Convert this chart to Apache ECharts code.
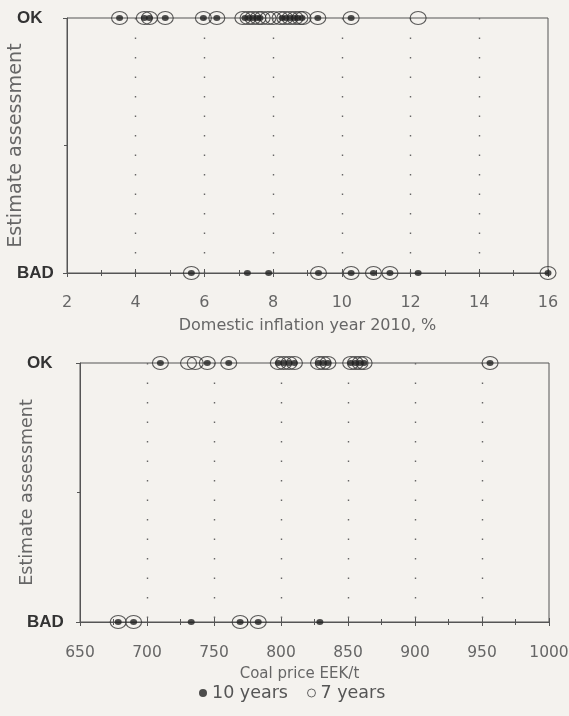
<!DOCTYPE html>
<html><head><meta charset="utf-8">
<script src="https://cdn.jsdelivr.net/npm/echarts@6/dist/echarts.min.js"></script>
<style>html,body{margin:0;padding:0;background:#f4f2ee;}#c{width:569px;height:716px;}</style>
</head><body><div id="c"></div>
<script>
// ---- data ----
const outcomeLabels = ['BAD', 'OK'];            // y = 0 -> BAD, y = 1 -> OK
const inflationTicks = [2, 4, 6, 8, 10, 12, 14, 16];
const coalTicks = [650, 700, 750, 800, 850, 900, 950, 1000];

// Domestic inflation year 2010, %
const inflation7OK  = [3.53, 4.25, 4.40, 4.86, 5.97, 6.36, 7.12, 7.27, 7.41, 7.56, 7.68, 7.85, 8.00, 8.20, 8.34, 8.49, 8.64, 8.78, 8.87, 9.30, 10.27, 12.22];
const inflation10OK = [3.53, 4.25, 4.40, 4.86, 5.97, 6.36, 7.18, 7.30, 7.41, 7.53, 7.62, 8.26, 8.37, 8.49, 8.61, 8.72, 8.84, 9.30, 10.27];
const inflation7BAD  = [5.62, 9.32, 10.27, 10.92, 11.40, 16.0];
const inflation10BAD = [5.62, 7.25, 7.87, 9.32, 10.27, 10.92, 11.40, 12.22, 16.0];

// Coal price EEK/t
const coal7OK  = [710, 731, 736, 745, 761, 798, 802, 806, 810, 828, 831.5, 835, 852, 855.5, 859, 862, 956];
const coal10OK = [710, 745, 761, 798, 802, 806, 810, 828, 831.5, 835, 852, 855.5, 859, 862, 956];
const coal7BAD  = [678.5, 690, 769.5, 783];
const coal10BAD = [678.5, 690, 733, 769.5, 783, 829];

// ---- build ----
const ELLIPSE = 'path://M0,50 A50,50 0 1,1 100,50 A50,50 0 1,1 0,50 Z';
const FONT = 'DejaVu Sans';
const pts = (xs, y) => xs.map(x => [x, y]);

function xAxesFor(gridIndex, ticks, name, nameSize, namePad, labelSize, labelMargin, nameGap) {
  const step = ticks[1] - ticks[0];
  const base = {
    type: 'value', gridIndex, position: 'bottom',
    min: ticks[0], max: ticks[ticks.length - 1], interval: step
  };
  return [
    Object.assign({}, base, {
      name, nameLocation: 'middle', nameGap, nameMoveOverlap: false,
      nameTextStyle: { fontFamily: FONT, fontSize: nameSize, color: '#666', padding: namePad },
      axisLine: { show: true, onZero: false, lineStyle: { color: '#555', width: 1 } },
      axisTick: { show: true, inside: false, length: 4, lineStyle: { color: '#555' } },
      minorTick: { show: true, splitNumber: 2, length: 3, lineStyle: { color: '#555' } },
      axisLabel: { margin: labelMargin, fontFamily: FONT, fontSize: labelSize, color: '#666',
        formatter: v => String(v) },
      splitLine: { show: true, showMinLine: false, showMaxLine: false,
        lineStyle: { color: '#666', width: 1.4, type: [1.5, 18] } },
      minorSplitLine: { show: false }
    }),
    Object.assign({}, base, {
      axisLine: { show: false },
      axisTick: { show: true, inside: true, length: 4, lineStyle: { color: '#555' } },
      minorTick: { show: true, splitNumber: 2, length: 3, lineStyle: { color: '#555' } },
      axisLabel: { show: false }, splitLine: { show: false }
    })
  ];
}

function yAxisFor(gridIndex, labelMargin, nameGap, nameSize) {
  return {
    type: 'value', gridIndex, min: 0, max: 1, interval: 1,
    name: 'Estimate assessment', nameLocation: 'middle', nameRotate: 90, nameGap,
    nameMoveOverlap: false,
    nameTextStyle: { fontFamily: FONT, fontSize: nameSize, color: '#666' },
    axisLine: { show: true, lineStyle: { color: '#555', width: 1 } },
    axisTick: { show: true, length: 4, lineStyle: { color: '#555' } },
    minorTick: { show: true, splitNumber: 2, length: 3, lineStyle: { color: '#555' } },
    axisLabel: { formatter: v => outcomeLabels[v] || '', align: 'left', margin: labelMargin,
      fontFamily: 'Liberation Sans', fontWeight: 'bold', fontSize: 17, color: '#333' },
    splitLine: { show: false }
  };
}

function seriesFor(xi, yi, s7ok, s7bad, s10ok, s10bad) {
  return [
    { type: 'scatter', name: '7 years', xAxisIndex: xi, yAxisIndex: yi, clip: false,
      symbol: ELLIPSE, symbolSize: [16, 13], silent: true,
      itemStyle: { color: 'rgba(0,0,0,0)', borderColor: '#333', borderWidth: 1 },
      data: pts(s7ok, 1).concat(pts(s7bad, 0)) },
    { type: 'scatter', name: '10 years', xAxisIndex: xi, yAxisIndex: yi, clip: false,
      symbol: ELLIPSE, symbolSize: [7, 6], silent: true,
      itemStyle: { color: '#222' },
      data: pts(s10ok, 1).concat(pts(s10bad, 0)) }
  ];
}

const chart = echarts.init(document.getElementById('c'), null, { renderer: 'canvas' });
chart.setOption({
  backgroundColor: '#f4f2ee',
  animation: false,
  grid: [
    { left: 67, right: 21, top: 18, height: 255, show: true, borderColor: '#555', borderWidth: 1,
      backgroundColor: 'transparent', containLabel: false, outerBoundsMode: 'none' },
    { left: 80, right: 20, top: 363, height: 259, show: true, borderColor: '#555', borderWidth: 1,
      backgroundColor: 'transparent', containLabel: false, outerBoundsMode: 'none' }
  ],
  xAxis: [].concat(
    xAxesFor(0, inflationTicks, 'Domestic inflation year 2010, %', 16, [0, 0, 0, 0], 16, 22, 45),
    xAxesFor(1, coalTicks, 'Coal price EEK/t', 15, [0, 30, 0, 0], 15.5, 23, 45)
  ),
  yAxis: [yAxisFor(0, 50, 41, 19.2), yAxisFor(1, 53, 43.5, 17.5)],
  legend: {
    left: 194, top: 679, itemWidth: 8, itemHeight: 8, itemGap: 19, selectedMode: false,
    textStyle: { fontFamily: FONT, fontSize: 17.5, color: '#555' },
    data: [
      { name: '10 years', icon: 'circle', itemStyle: { color: '#222', borderWidth: 0 } },
      { name: '7 years', icon: 'circle', itemStyle: { color: 'rgba(0,0,0,0)', borderColor: '#444', borderWidth: 1 } }
    ]
  },
  series: [].concat(
    seriesFor(0, 0, inflation7OK, inflation7BAD, inflation10OK, inflation10BAD),
    seriesFor(2, 1, coal7OK, coal7BAD, coal10OK, coal10BAD)
  )
});
</script></body></html>
